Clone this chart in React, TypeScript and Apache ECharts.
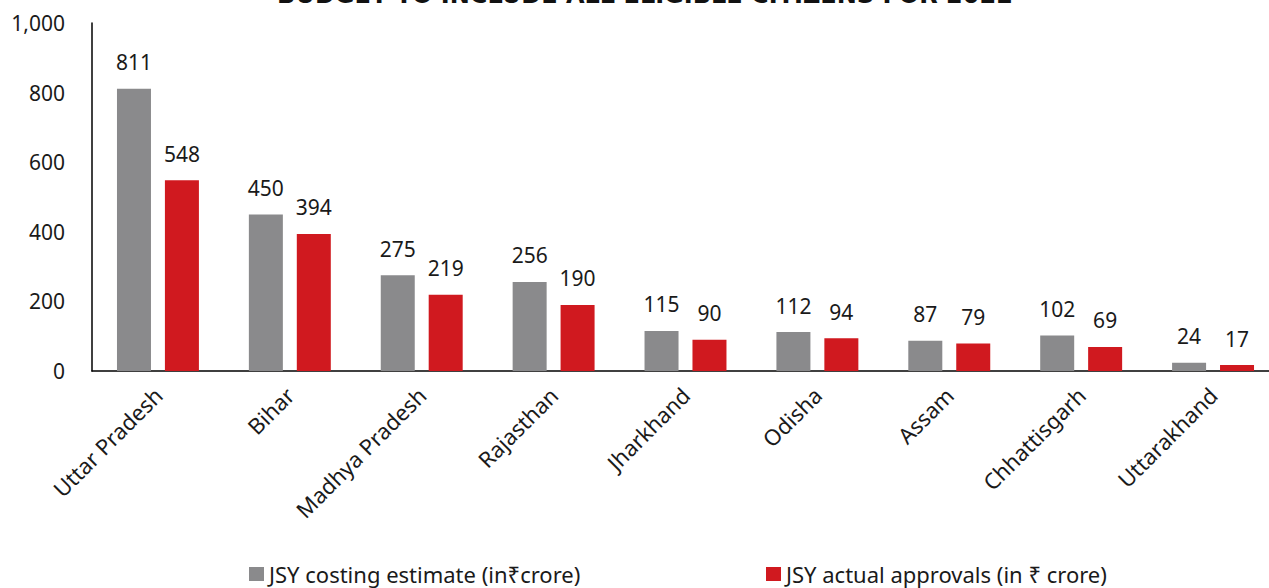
import React, { useEffect, useRef } from "react";
import * as echarts from "echarts";

const categories = [
  "Uttar Pradesh",
  "Bihar",
  "Madhya Pradesh",
  "Rajasthan",
  "Jharkhand",
  "Odisha",
  "Assam",
  "Chhattisgarh",
  "Uttarakhand",
];
const costingEstimate = [811, 450, 275, 256, 115, 112, 87, 102, 24];
const actualApprovals = [548, 394, 219, 190, 90, 94, 79, 69, 17];
const seriesNames = [
  "JSY costing estimate (in\u20B9crore)",
  "JSY actual approvals (in \u20B9 crore)",
];
const titleText = "BUDGET TO INCLUDE ALL ELIGIBLE CITIZENS FOR 2022";

const FONT = "'Noto Sans', 'Open Sans', sans-serif";
const LEGEND_FONT = "'Liberation Sans Narrow', 'Noto Sans', sans-serif";

export default function App() {
  const ref = useRef<HTMLDivElement>(null);
  useEffect(() => {
    if (!ref.current) return;
    const chart = echarts.init(ref.current, undefined, { renderer: "svg" });
    const labelStyle = {
      show: true,
      position: "top" as const,
      distance: 16,
      color: "#1a1a1a",
      fontSize: 21,
      fontFamily: FONT,
    };
    const legendBase = {
      top: 558,
      itemWidth: 15,
      itemHeight: 14,
      icon: "rect",
      itemGap: 6,
      textStyle: {
        fontSize: 22,
        color: "#1a1a1a",
        fontFamily: LEGEND_FONT,
      },
    };
    chart.setOption({
      animation: false,
      backgroundColor: "#ffffff",
      graphic: [
        {
          type: "text",
          x: 645,
          y: 7,
          style: {
            text: titleText,
            fontSize: 24,
            fontWeight: "bold",
            fontFamily: "'DejaVu Sans', sans-serif",
            fill: "#111",
            textAlign: "center",
            textVerticalAlign: "bottom",
          },
        },
      ],
      legend: [
        { ...legendBase, data: [seriesNames[0]], left: 244 },
        { ...legendBase, data: [seriesNames[1]], left: 761 },
      ],
      grid: {
        left: 92,
        top: 23,
        width: 1187,
        height: 348,
        containLabel: false,
      },
      xAxis: {
        type: "category",
        data: categories,
        axisLine: { show: true, lineStyle: { color: "#000", width: 1.5 } },
        axisTick: { show: false },
        axisLabel: {
          rotate: 45,
          interval: 0,
          fontSize: 22,
          margin: 20,
          color: "#1a1a1a",
          fontFamily: FONT,
        },
      },
      yAxis: {
        type: "value",
        min: 0,
        max: 1000,
        interval: 200,
        axisLine: { show: true, lineStyle: { color: "#000", width: 1.5 } },
        axisTick: { show: false },
        splitLine: { show: false },
        axisLabel: {
          fontSize: 21,
          margin: 27,
          color: "#1a1a1a",
          fontFamily: FONT,
          formatter: (v: number) => v.toLocaleString("en-US"),
        },
      },
      series: [
        {
          name: seriesNames[0],
          type: "bar",
          data: costingEstimate,
          barWidth: 34,
          barGap: "41%",
          itemStyle: { color: "#8a8a8c" },
          label: labelStyle,
        },
        {
          name: seriesNames[1],
          type: "bar",
          data: actualApprovals,
          barWidth: 34,
          itemStyle: { color: "#d0191f" },
          label: labelStyle,
        },
      ],
    });
    return () => chart.dispose();
  }, []);
  return (
    <div
      ref={ref}
      style={{ position: "fixed", left: 0, top: 0, width: 1290, height: 588 }}
    />
  );
}
